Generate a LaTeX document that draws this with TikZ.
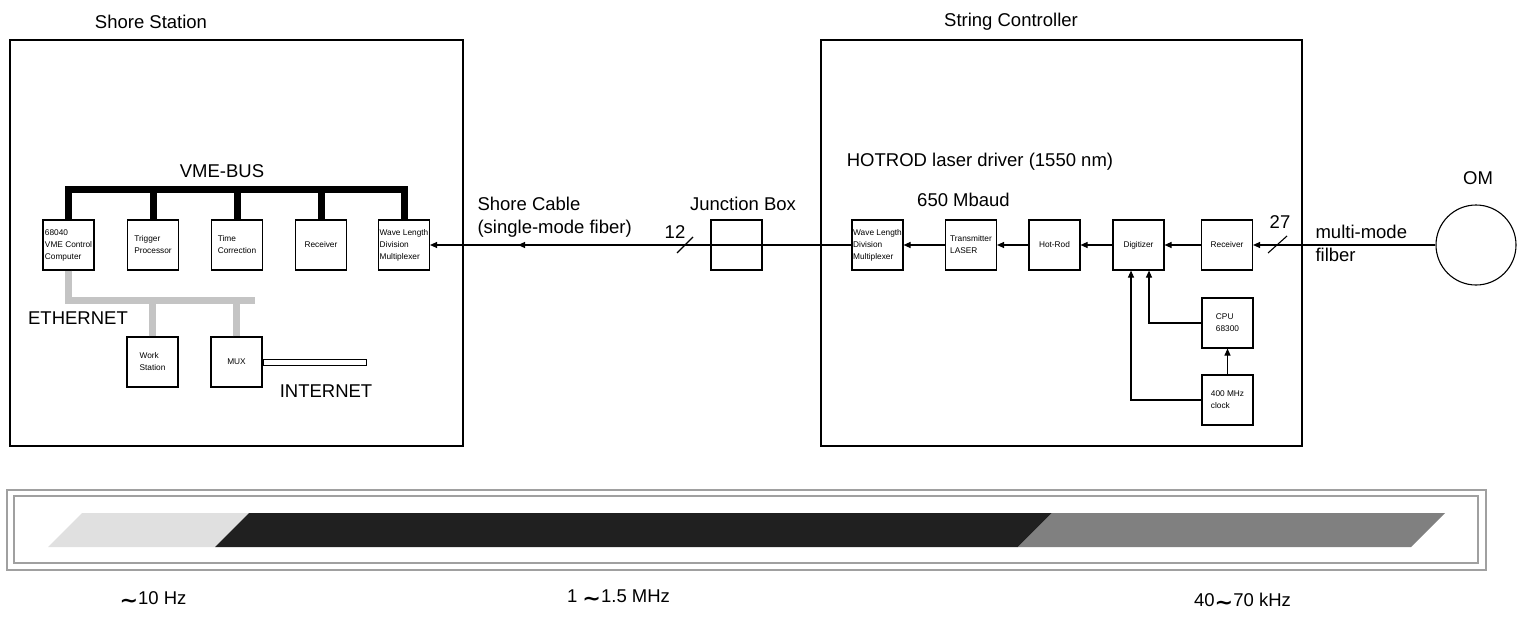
\documentclass[tikz,border=0pt]{standalone}
\usepackage{fontspec}
\usepackage{graphicx}
\setmainfont{Liberation Sans}
\newfontfamily\tildefont{DejaVu Sans}
\usetikzlibrary{positioning,arrows.meta}
\definecolor{bandlight}{HTML}{E0E0E0}
\definecolor{banddark}{HTML}{202020}
\definecolor{bandmid}{HTML}{808080}
\definecolor{ethgray}{HTML}{C4C4C4}
\definecolor{framegray}{HTML}{A0A0A0}
\newcommand{\freqsim}{\raisebox{-3pt}{\scalebox{1.2}[1.1]{\tildefont\bfseries ∼}}}
\begin{document}
\begin{tikzpicture}[x=1pt, y=-1pt, line width=1.1pt,
    unit/.style={draw, minimum width=51pt, minimum height=50pt, inner sep=0pt, align=left, font=\fontsize{8.3}{12}\selectfont},
    lbl/.style={inner sep=0pt, font=\fontsize{18.5}{23}\selectfont},
    sig/.style={-{Triangle[length=7pt,width=6pt]}},
    vme/.style={line width=7pt},
    eth/.style={line width=7pt, ethgray}]
\useasboundingbox (0,0) rectangle (1517,621);

\node (shore) [draw, minimum width=453pt, minimum height=406pt, inner sep=0pt] at (236.5,243) {};
\node (strc) [draw, minimum width=481pt, minimum height=406pt, inner sep=0pt] at (1061.5,243) {};
\node [lbl] at (151,22) {Shore Station};
\node [lbl] at (1011,22) {String Controller};

\node (cpu68) [unit] at (68.5,245) {68040\\VME Control\\Computer};
\node (trig) [unit] at (153,245) {Trigger\\Processor};
\node (timec) [unit] at (237,245) {Time\\Correction};
\node (recvS) [unit] at (321,245) {Receiver};
\node (wdmS) [unit] at (404,245) {Wave Length\\Division\\Multiplexer};
\coordinate (bus) at (0,189.5);
\draw[vme] (cpu68.north) -- (cpu68.north |- bus) -- (wdmS.north |- bus) -- (wdmS.north);
\foreach \n in {trig,timec,recvS}
    \draw[vme] (\n.north) -- (\n.north |- bus);
\node [lbl] at (222,171) {VME-BUS};

\node (ws) [unit] at (152.5,362) {Work\\Station};
\node (mux) [unit] at (236.5,362) {MUX};
\coordinate (ethy) at (0,300);
\coordinate (ethend) at (255,300);
\draw[eth] (cpu68.south) -- (cpu68.south |- ethy) -- (ethend);
\draw[eth] (ws.north) -- (ws.north |- ethy);
\draw[eth] (mux.north) -- (mux.north |- ethy);
\node [lbl] at (78,318) {ETHERNET};
\node (inet) [draw, line width=0.8pt, fill=white, minimum width=103pt, minimum height=6pt, inner sep=0pt, anchor=west] at (mux.east) {};
\node [lbl] at (326,391) {INTERNET};

\node (jb) [unit] at (736.5,245) {};
\node [lbl] at (743,204) {Junction Box};
\node [lbl, anchor=west, align=left] at (477,217.5) {Shore Cable\\(single-mode fiber)};
\node [lbl] at (675,232) {12};
\draw (677,253) -- (693,237);

\node (wdmR) [unit] at (877.5,245) {Wave Length\\Division\\Multiplexer};
\node (tx) [unit] at (971,245) {Transmitter\\LASER};
\node (hr) [unit] at (1054.5,245) {Hot-Rod};
\node (dig) [unit] at (1138.5,245) {Digitizer};
\node (rx) [unit] at (1227,245) {Receiver};
\node (cpu) [unit] at (1227.5,323) {CPU\\68300};
\node (clk) [unit] at (1227.5,400) {400 MHz\\clock};
\node [lbl] at (980,162) {HOTROD laser driver (1550 nm)};
\node [lbl] at (963.5,200) {650 Mbaud};

\draw[sig] (wdmR) -- (wdmS);
\coordinate (cabA) at (635,245);
\coordinate (cabB) at (518,245);
\draw[sig] (cabA) -- (cabB);
\draw[sig] (tx) -- (wdmR);
\draw[sig] (hr) -- (tx);
\draw[sig] (dig) -- (hr);
\draw[sig] (rx) -- (dig);
\draw[sig] (cpu.west) -| ([xshift=10.5pt]dig.south);
\draw[sig] (clk.west) -| ([xshift=-7.5pt]dig.south);
\draw[sig] (clk) -- (cpu);

\node (om) [draw, circle, minimum size=80pt, inner sep=0pt] at (1476,245) {};
\node [lbl] at (1478,178) {OM};
\draw[sig] (om) -- (rx);
\draw (1268,253) -- (1287,236);
\node [lbl] at (1280,222) {27};
\node [lbl, anchor=west, align=left] at (1315,243) {multi-mode\\filber};

\draw[framegray] (7,490) rectangle (1486,570);
\draw[framegray] (14,496) rectangle (1478,563);
\fill[bandlight] (48,547) -- (82,513) -- (249,513) -- (215,547) -- cycle;
\fill[banddark] (215,547) -- (249,513) -- (1052,513) -- (1018,547) -- cycle;
\fill[bandmid] (1018,547) -- (1052,513) -- (1445,513) -- (1411,547) -- cycle;
\node [lbl] at (153,600) {\freqsim10 Hz};
\node [lbl] at (618.5,598) {1 \freqsim1.5 MHz};
\node [lbl] at (1242.5,601) {40\freqsim70 kHz};
\end{tikzpicture}
\end{document}
